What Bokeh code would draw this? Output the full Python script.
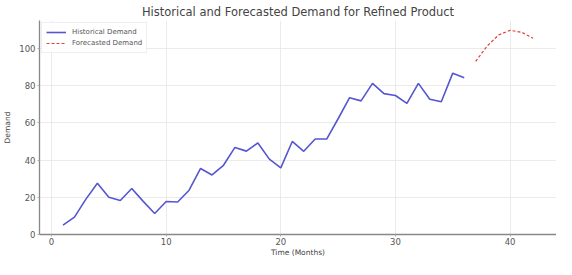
from bokeh.plotting import figure
from bokeh.models import Range1d, Legend, LegendItem, FixedTicker
from bokeh.embed import file_html
from bokeh.resources import INLINE

hist_months = list(range(1, 37))
hist_demand = [5.0, 9.3, 19.0, 27.5, 20.0, 18.3, 24.7, 17.8, 11.3, 17.7,
               17.5, 23.8, 35.5, 32.0, 37.2, 46.8, 44.8, 49.2, 40.5, 35.8,
               50.0, 44.7, 51.3, 51.3, 62.2, 73.5, 71.8, 81.2, 75.7, 74.7,
               70.5, 81.2, 72.7, 71.3, 86.7, 84.2]
fc_months = [37, 38, 39, 40, 41, 42]
fc_demand = [93.0, 101.3, 107.2, 109.7, 108.7, 105.5]
x_ticks = [0, 10, 20, 30, 40]
y_ticks = [0, 20, 40, 60, 80, 100]

FONT = "DejaVu Sans"

p = figure(width=556, height=259, output_backend="svg", toolbar_location=None,
           x_range=Range1d(-1.05, 44.05), y_range=Range1d(0, 115),
           min_border_left=30, min_border_right=0, min_border_top=0, min_border_bottom=0)

p.title.text = "Historical and Forecasted Demand for Refined Product"
p.title.align = "center"
p.title.text_font = FONT
p.title.text_font_size = "11.5px"
p.title.text_font_style = "normal"
p.title.text_color = "#444444"
p.title.standoff = 4
p.title.offset = 0

p.outline_line_color = None
p.background_fill_color = "white"
p.border_fill_color = "white"

for ax in (p.xaxis, p.yaxis):
    ax.axis_line_color = "#888888"
    ax.axis_line_width = 1.3
    ax.major_tick_line_color = "#aaaaaa"
    ax.major_tick_out = 2
    ax.major_tick_in = 0
    ax.minor_tick_line_color = None
    ax.major_label_text_font = FONT
    ax.major_label_text_font_size = "8.5px"
    ax.major_label_text_color = "#555555"
    ax.axis_label_text_font = FONT
    ax.axis_label_text_font_size = "7.5px"
    ax.axis_label_text_font_style = "normal"
    ax.axis_label_text_color = "#444444"
    ax.major_label_standoff = 1
    ax.axis_label_standoff = 0

p.xaxis.ticker = FixedTicker(ticks=x_ticks)
p.yaxis.ticker = FixedTicker(ticks=y_ticks)
p.xaxis.axis_label = "Time (Months)"
p.yaxis.axis_label = "Demand"
p.yaxis.axis_label_standoff = 4
p.yaxis.major_label_standoff = 2

p.xgrid.ticker = FixedTicker(ticks=x_ticks)
p.ygrid.ticker = FixedTicker(ticks=y_ticks)
p.grid.grid_line_color = "#e6e6e6"
p.grid.grid_line_width = 0.8

r1 = p.line(hist_months, hist_demand, line_color="#5656d2", line_width=1.6)
r2 = p.line(fc_months, fc_demand, line_color="#e04040", line_width=1.2, line_dash="3 2")

legend = Legend(items=[LegendItem(label="Historical Demand", renderers=[r1]),
                       LegendItem(label="Forecasted Demand", renderers=[r2])],
                location="top_left")
legend.label_text_font = FONT
legend.label_text_font_size = "7px"
legend.label_text_color = "#555555"
legend.border_line_color = "#dddddd"
legend.border_line_width = 1
legend.background_fill_alpha = 0.9
legend.padding = 4
legend.spacing = 1
legend.margin = 2
legend.glyph_width = 20
legend.glyph_height = 10
legend.label_height = 10
legend.label_standoff = 6
p.add_layout(legend)

open("out.html", "w").write(file_html(p, INLINE))
